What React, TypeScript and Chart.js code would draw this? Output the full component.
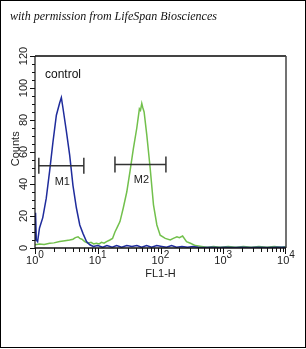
import React, { useEffect, useRef } from 'react';
import { Chart, registerables } from 'chart.js';

Chart.register(...registerables);

const titleText = 'with permission from LifeSpan Biosciences';
const sampleLabel = 'control';
const xAxisTitle = 'FL1-H';
const yAxisTitle = 'Counts';
const xTickValues = [1, 10, 100, 1000, 10000];
const xTickBase = '10';
const xTickExponents = ['0', '1', '2', '3', '4'];
const yTickValues = [0, 20, 40, 60, 80, 100, 120];

const blueX = [1.0, 1.02, 1.05, 1.1, 1.18, 1.33, 1.51, 1.71, 1.93, 2.19, 2.47, 2.63, 2.79, 3.16, 3.57, 4.03, 4.57, 5.17, 5.83, 6.62, 7.47, 8.5, 10, 12, 14, 17, 20, 24, 29, 35, 42, 50, 60, 72, 87, 105, 125, 150, 180, 220, 270, 330, 400, 500, 650, 850, 1100, 1500, 2000, 2700, 3600, 5000, 7000, 10000];
const blueY = [5, 22, 5, 4, 12.5, 19, 31, 48, 66, 83, 90.6, 94, 87.5, 73, 58, 39, 25, 14.4, 9, 4, 2, 1, 1.5, 0.5, 1.5, 0.5, 1.5, 0.5, 1.5, 1, 1.5, 0.5, 1.5, 0.5, 1.5, 1, 0.5, 1.5, 0.5, 1, 0.5, 1, 0.5, 0.3, 0.5, 0.3, 0.5, 0.3, 0.5, 0.3, 0.5, 0.3, 0.5, 0.5];

const greenX = [1.0, 1.18, 1.4, 1.71, 2.0, 2.47, 3.0, 3.57, 4.03, 4.4, 4.85, 5.17, 5.6, 6.2, 7.0, 7.8, 8.6, 9.5, 10.5, 11.5, 12.6, 13.8, 15.6, 17.2, 18.8, 20.5, 22.6, 25.5, 29.0, 32.7, 36.9, 41.9, 46.1, 48, 50.3, 52, 54.8, 60.5, 68.4, 77.3, 87.5, 98.9, 119, 143, 160, 183, 200, 225, 260, 300, 360, 450, 560, 700, 900, 1200, 1600, 2100, 2800, 3700, 5000, 6500, 8500, 10000];
const greenY = [2, 2.5, 2.2, 3, 3.2, 4, 4.5, 5, 5.5, 6.5, 7, 6, 5.5, 4, 3, 3.5, 2.5, 3, 2.5, 3.5, 3, 4, 5, 6, 10, 13, 16.5, 25, 35, 48, 62, 75, 87, 86, 90.4, 88, 85, 70.6, 50, 27, 14.4, 8, 6, 5, 6, 7, 6.5, 7.5, 4, 3, 1.5, 1, 0.5, 1, 0.5, 1, 0.5, 1, 0.5, 1, 0.5, 1, 0.5, 1];

const markerLabels = ['M1', 'M2'];
const markerStart = [1.15, 18.8];
const markerEnd = [6.0, 122];
const markerLevel = [51.4, 52.2];

const SANS = '"Liberation Sans", Arial, sans-serif';

export default function App() {
  const ref = useRef<HTMLCanvasElement>(null);

  useEffect(() => {
    const canvas = ref.current;
    if (!canvas) return;

    const decor = {
      id: 'decor',
      afterDraw(chart: any) {
        const { ctx, chartArea: a } = chart;
        const xs = chart.scales.x;
        const ys = chart.scales.y;
        const line = (x1: number, y1: number, x2: number, y2: number) => {
          ctx.beginPath();
          ctx.moveTo(x1, y1);
          ctx.lineTo(x2, y2);
          ctx.stroke();
        };
        ctx.save();
        // outer frame
        ctx.strokeStyle = '#000';
        ctx.lineWidth = 1;
        ctx.strokeRect(0.5, 0.5, 305, 347);
        // title
        ctx.fillStyle = '#111';
        ctx.font = 'italic 12px "Liberation Serif", serif';
        ctx.textAlign = 'left';
        ctx.textBaseline = 'alphabetic';
        ctx.fillText(titleText, 10, 20);

        // plot frame
        ctx.strokeStyle = '#444';
        ctx.lineWidth = 2;
        line(a.left, a.top, a.right, a.top);
        ctx.lineWidth = 1.5;
        line(a.right, a.top, a.right, a.bottom);
        ctx.strokeStyle = '#111';
        ctx.lineWidth = 1.5;
        line(a.left, a.bottom, a.right, a.bottom);
        ctx.lineWidth = 1.2;
        line(a.left, a.top, a.left, a.bottom + 1);

        // x ticks (log minor + major)
        ctx.lineWidth = 1;
        for (let d = 0; d < xTickValues.length - 1; d++) {
          for (let m = 1; m <= 9; m++) {
            const v = xTickValues[d] * m;
            const px = Math.round(xs.getPixelForValue(v)) + 0.5;
            line(px, a.bottom, px, a.bottom + (m === 1 ? 6 : 4));
          }
        }
        {
          const px = Math.round(xs.getPixelForValue(xTickValues[xTickValues.length - 1])) - 0.5;
          line(px, a.bottom, px, a.bottom + 6);
        }
        // y ticks
        for (let v = 0; v <= 120; v += 5) {
          const py = Math.round(ys.getPixelForValue(v)) + 0.5;
          line(a.left, py, a.left - (v % 20 === 0 ? 5 : 3), py);
        }

        // x tick labels with superscripts
        ctx.fillStyle = '#222';
        xTickValues.forEach((v, i) => {
          const px = xs.getPixelForValue(v);
          ctx.font = `11px ${SANS}`;
          const wb = ctx.measureText(xTickBase).width;
          ctx.font = `10px ${SANS}`;
          const we = ctx.measureText(xTickExponents[i]).width;
          const start = px - (wb + we) / 2;
          ctx.textAlign = 'left';
          ctx.font = `11px ${SANS}`;
          ctx.fillText(xTickBase, start, a.bottom + 16);
          ctx.font = `10px ${SANS}`;
          ctx.fillText(xTickExponents[i], start + wb, a.bottom + 10);
        });
        // x title
        ctx.font = `11px ${SANS}`;
        ctx.textAlign = 'center';
        ctx.fillText(xAxisTitle, (xs.getPixelForValue(100)), a.bottom + 29);

        // y tick labels rotated
        yTickValues.forEach((v) => {
          const py = ys.getPixelForValue(v);
          ctx.save();
          ctx.translate(27, py);
          ctx.rotate(-Math.PI / 2);
          ctx.textAlign = 'center';
          ctx.textBaseline = 'alphabetic';
          ctx.font = `11px ${SANS}`;
          ctx.fillText(String(v), 0, 0);
          ctx.restore();
        });
        // y title
        ctx.save();
        ctx.translate(19, ys.getPixelForValue(62));
        ctx.rotate(-Math.PI / 2);
        ctx.textAlign = 'center';
        ctx.font = `11px ${SANS}`;
        ctx.fillText(yAxisTitle, 0, 0);
        ctx.restore();

        // sample label
        ctx.font = `12px ${SANS}`;
        ctx.textAlign = 'left';
        ctx.fillStyle = '#111';
        ctx.fillText(sampleLabel, a.left + 10, a.top + 22);

        // markers
        ctx.strokeStyle = '#333';
        ctx.lineWidth = 1.5;
        markerLabels.forEach((lab, i) => {
          const x1 = xs.getPixelForValue(markerStart[i]);
          const x2 = xs.getPixelForValue(markerEnd[i]);
          const py = ys.getPixelForValue(markerLevel[i]);
          line(x1, py, x2, py);
          line(x1, py - 8, x1, py + 8);
          line(x2, py - 8, x2, py + 8);
          ctx.fillStyle = '#222';
          ctx.font = `11px ${SANS}`;
          ctx.textAlign = 'center';
          const mid = xs.getPixelForValue(Math.sqrt(markerStart[i] * markerEnd[i]));
          ctx.fillText(lab, mid + 1, py + 19);
        });
        ctx.restore();
      },
    };

    const chart = new Chart(canvas, {
      type: 'line',
      data: {
        datasets: [
          {
            label: 'blue',
            data: blueX.map((x, i) => ({ x, y: blueY[i] })),
            borderColor: '#1f2c9c',
            borderWidth: 1.5,
            pointRadius: 0,
            tension: 0,
            fill: false,
          },
          {
            label: 'green',
            data: greenX.map((x, i) => ({ x, y: greenY[i] })),
            borderColor: '#72c04c',
            borderWidth: 1.5,
            pointRadius: 0,
            tension: 0,
            fill: false,
          },
        ],
      },
      options: {
        responsive: false,
        animation: false,
        devicePixelRatio: 1,
        layout: { padding: { left: 5, right: 20, top: 56, bottom: 61 } },
        plugins: {
          legend: { display: false },
          tooltip: { enabled: false },
          title: { display: false },
        },
        scales: {
          x: {
            type: 'logarithmic',
            min: 1,
            max: 10000,
            grid: { display: false },
            border: { display: false },
            ticks: { display: false },
            afterFit: (s: any) => {
              s.height = 40;
            },
          },
          y: {
            type: 'linear',
            min: 0,
            max: 120,
            grid: { display: false },
            border: { display: false },
            ticks: { display: false },
            afterFit: (s: any) => {
              s.width = 30;
            },
          },
        },
      },
      plugins: [decor],
    });
    return () => chart.destroy();
  }, []);

  return (
    <div style={{ position: 'absolute', left: 0, top: 0, width: 306, height: 349, background: '#fff' }}>
      <canvas ref={ref} width={306} height={349} style={{ display: 'block' }} />
    </div>
  );
}
